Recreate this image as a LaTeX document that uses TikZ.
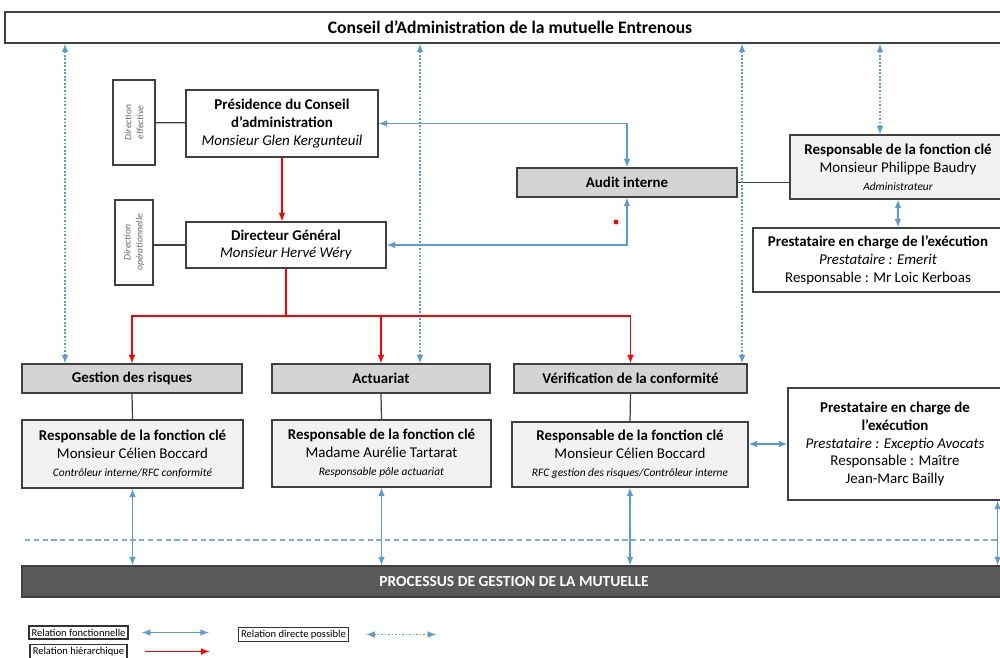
\documentclass[tikz,border=0pt]{standalone}
\usepackage{fontspec}
\setmainfont{Carlito}
\definecolor{rblue}{RGB}{91,155,213}
\newcommand\mention[1]{{\fontsize{6.5}{8}\selectfont\itshape #1}}

\begin{document}
\begin{tikzpicture}[x=.02cm,y=-.02cm,
        box/.style={draw=black!75,line width=.7pt,align=center,inner sep=1pt,
            font=\fontsize{8.5}{10.2}\selectfont},
        fonc/.style={box,fill=black!17,font=\fontsize{8.5}{10}\selectfont\bfseries,minimum height=.58cm},
        rfc/.style={box,fill=black!5},
        dirbox/.style={draw=black!75,line width=.7pt,minimum height=1.7cm,inner sep=0pt,
            font=\fontsize{5.5}{6}\selectfont\itshape,text=black!60},
        legbox/.style={draw=black!80,line width=.9pt,inner sep=1.5pt,font=\fontsize{6}{7}\selectfont},
        rel/.style={rblue,line width=.7pt,latex-latex},
        relpos/.style={rel,dash pattern=on 1pt off 1pt},
        hier/.style={red,line width=.7pt,-latex},
        link/.style={black!75,line width=.7pt}]
        \useasboundingbox (0,0) rectangle (1000,658);
        \clip (0,0) rectangle (1000,658);

        % haut
        \node[box,minimum width=20.2cm,minimum height=.62cm,font=\fontsize{10}{11}\selectfont\bfseries]
            (conseil) at (510,27.5) {Conseil d’Administration de la mutuelle Entrenous};
        \node[dirbox,minimum width=.84cm] (effective) at (134,122.5)
            {\rotatebox{90}{\shortstack{Direction\\effective}}};
        \node[box,minimum width=3.84cm,minimum height=1.34cm] (presidence) at (282,123.5)
            {\textbf{Présidence du Conseil}\\\textbf{d’administration}\\\textit{Monsieur Glen Kergunteuil}};
        \node[dirbox,minimum width=.76cm] (operationnelle) at (134,242.5)
            {\rotatebox{90}{\shortstack{Direction\\opérationnelle}}};
        \node[box,minimum width=4cm,minimum height=.92cm] (dg) at (286,245)
            {\textbf{Directeur Général}\\\textit{Monsieur Hervé Wéry}};
        \node[fonc,minimum width=4.4cm] (audit) at (627,182.5) {Audit interne};
        \node[rfc,minimum width=4.32cm,minimum height=1.28cm] (rfcaudit) at (898,167)
            {\textbf{Responsable de la fonction clé}\\Monsieur Philippe Baudry\\\mention{Administrateur}};
        \node[box,minimum width=5cm,minimum height=1.28cm] (emerit) at (878,260)
            {\textbf{Prestataire en charge de l’exécution}\\\textit{Prestataire : Emerit}\\Responsable : Mr Loic Kerboas};

        % fonctions cles
        \node[fonc,minimum width=4.4cm] (risques) at (132,378.5) {Gestion des risques};
        \node[fonc,minimum width=4.36cm] (actuariat) at (381,378.5) {Actuariat};
        \node[fonc,minimum width=4.66cm] (conformite) at (630.5,378.5) {Vérification de la conformité};
        \node[rfc,minimum width=4.42cm,minimum height=1.36cm] (rfcrisques) at (132.5,454)
            {\textbf{Responsable de la fonction clé}\\Monsieur Célien Boccard\\\mention{Contrôleur interne/RFC conformité}};
        \node[rfc,minimum width=4.38cm,minimum height=1.34cm] (rfcactuariat) at (381.5,453.5)
            {\textbf{Responsable de la fonction clé}\\Madame Aurélie Tartarat\\\mention{Responsable pôle actuariat}};
        \node[rfc,minimum width=4.72cm,minimum height=1.3cm] (rfcconformite) at (630,454.5)
            {\textbf{Responsable de la fonction clé}\\Monsieur Célien Boccard\\\mention{RFC gestion des risques/Contrôleur interne}};
        \node[box,minimum width=4.28cm,minimum height=2.24cm] (exceptio) at (895,444)
            {\textbf{Prestataire en charge de}\\\textbf{l’exécution}\\\textit{Prestataire : Exceptio Avocats}\\Responsable : Maître\\Jean-Marc Bailly};
        \node[box,fill=black!65,text=white,minimum width=19.68cm,minimum height=.62cm,
            font=\fontsize{8.8}{10}\selectfont\bfseries] (processus) at (514,581.5)
            {PROCESSUS DE GESTION DE LA MUTUELLE};

        % legende
        \node[legbox] (legfonc) at (78.5,632.5) {Relation fonctionnelle};
        \node[legbox] (legdirecte) at (293.5,634.5) {Relation directe possible};
        \node[legbox] (leghier) at (78.5,651.5) {Relation hiérarchique};

        % liens
        \draw[link] (effective) -- (presidence);
        \draw[link] (operationnelle.east |- dg.west) -- (dg.west);
        \draw[link] (audit.east) -- (audit.east -| rfcaudit.west);
        \foreach \n in {risques,actuariat,conformite}
            \draw[link] (\n.south) -- (rfc\n.north);
        \foreach \x/\n in {65/risques,420/actuariat,742/conformite,880/rfcaudit}
            \draw[relpos] (conseil.south -| \x,0) -- (\n.north -| \x,0);
        \draw[rel] (presidence.east) -| (audit.north);
        \draw[rel] (dg.east) -| (audit.south);
        \draw[rel] (rfcaudit.south) -- (rfcaudit.south |- emerit.north);
        \draw[rel] (rfcconformite.east |- exceptio.west) -- (exceptio.west);
        \foreach \n in {rfcrisques,rfcactuariat,rfcconformite}
            \draw[rel] (\n.south) -- (\n.south |- processus.north);
        \draw[rel] ([xshift=-.1cm]exceptio.south east) -- ([xshift=-.1cm]exceptio.south east |- processus.north);
        \draw[rblue!80,line width=.6pt,dash pattern=on 3pt off 2pt] (25,540) -- (1005,540);
        \fill[red] (616,222) circle (1.4pt);

        \draw[hier] (presidence.south) -- (presidence.south |- dg.north);
        \coordinate (bus) at (0,316);
        \draw[red,line width=.7pt] (dg.south) -- (dg.south |- bus);
        \foreach \n in {risques,actuariat,conformite}
            \draw[hier] (dg.south |- bus) -| (\n.north);

        \draw[rel] ([xshift=.26cm]legfonc.east) -- ([xshift=1.6cm]legfonc.east);
        \draw[relpos] ([xshift=.34cm]legdirecte.east) -- ([xshift=1.74cm]legdirecte.east);
        \draw[hier] ([xshift=.34cm]leghier.east) -- ([xshift=1.64cm]leghier.east);
\end{tikzpicture}
\end{document}
